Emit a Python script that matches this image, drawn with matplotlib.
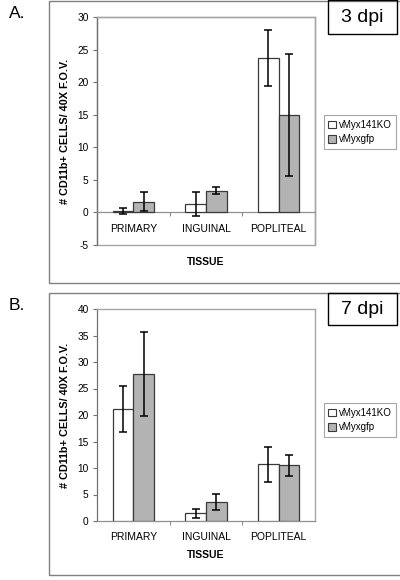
import matplotlib
matplotlib.use("Agg")
import matplotlib.pyplot as plt
from matplotlib.patches import Rectangle, Patch
import numpy as np

plt.rcParams['font.family'] = ['Liberation Sans', 'DejaVu Sans']

categories = ["PRIMARY", "INGUINAL", "POPLITEAL"]
series_names = ["vMyx141KO", "vMyxgfp"]

# Panel A (3 dpi)
a_ko = [0.25, 1.3, 23.7]
a_ko_err = [0.5, 1.8, 4.3]
a_gfp = [1.65, 3.35, 14.95]
a_gfp_err = [1.5, 0.5, 9.4]

# Panel B (7 dpi)
b_ko = [21.1, 1.5, 10.7]
b_ko_err = [4.4, 0.85, 3.3]
b_gfp = [27.75, 3.65, 10.5]
b_gfp_err = [8.0, 1.5, 2.0]

a_yticks = [-5, 0, 5, 10, 15, 20, 25, 30]
b_yticks = [0, 5, 10, 15, 20, 25, 30, 35, 40]

W, H = 400, 580
fig = plt.figure(figsize=(W / 100, H / 100), dpi=100)

def px_axes(x0, y0, x1, y1):
    return fig.add_axes([x0 / W, 1 - y1 / H, (x1 - x0) / W, (y1 - y0) / H])

def fig_rect(x0, y0, x1, y1, lw=1.0, ec="#808080"):
    r = Rectangle((x0 / W, 1 - y1 / H), (x1 - x0) / W, (y1 - y0) / H,
                  transform=fig.transFigure, fill=False, ec=ec, lw=lw, clip_on=False)
    fig.patches.append(r)

WHITE = "white"
GRAY = "#b3b3b3"
EDGE = "#3a3a3a"
FRAME = "#a6a6a6"

def panel(ax, ko, ko_err, gfp, gfp_err, yticks, label_pad, tissue_y):
    x = np.arange(len(categories))
    w = 0.285
    ax.bar(x - w / 2, ko, w, color=WHITE, edgecolor=EDGE, linewidth=0.9, zorder=3)
    ax.bar(x + w / 2, gfp, w, color=GRAY, edgecolor=EDGE, linewidth=0.9, zorder=3)
    ax.errorbar(x - w / 2, ko, yerr=ko_err, fmt="none", ecolor="black",
                elinewidth=1.1, capsize=3, capthick=1.1, zorder=4)
    ax.errorbar(x + w / 2, gfp, yerr=gfp_err, fmt="none", ecolor="black",
                elinewidth=1.1, capsize=3, capthick=1.1, zorder=4)
    ax.set_xlim(-0.5, len(categories) - 0.5)
    ax.set_ylim(yticks[0], yticks[-1])
    ax.set_yticks(yticks)
    ax.set_yticklabels([str(t) for t in yticks], fontsize=7.3)
    for s in ["top", "right"]:
        ax.spines[s].set_color(FRAME)
        ax.spines[s].set_linewidth(1.0)
    ax.spines["left"].set_color("#707070")
    ax.spines["left"].set_linewidth(0.9)
    ax.spines["bottom"].set_position(("data", 0))
    ax.spines["bottom"].set_color("#909090")
    ax.spines["bottom"].set_linewidth(0.9)
    if yticks[0] < 0:
        ax.add_patch(Rectangle((0, 0), 1, 1, transform=ax.transAxes, fill=False,
                               ec=FRAME, lw=1.0, zorder=1, clip_on=False))
    ax.tick_params(axis="y", length=3, width=0.8, color="#707070", pad=3)
    # category boundary ticks
    ax.set_xticks([0.5, 1.5], minor=True)
    ax.tick_params(axis="x", which="minor", length=3, width=0.8, color="#909090")
    ax.set_xticks(x)
    ax.set_xticklabels(categories, fontsize=7.5)
    ax.tick_params(axis="x", which="major", length=0, pad=label_pad)
    ax.set_ylabel("# CD11b+ CELLS/ 40X F.O.V.", fontsize=7.8, fontweight="bold", labelpad=5)
    ax.text(0.5, tissue_y, "TISSUE", transform=ax.transAxes, ha="center", va="center",
            fontsize=7.5, fontweight="bold")

# Panel A
fig_rect(49, 0.5, 402, 283)
axA = px_axes(97, 17, 315, 245)
panel(axA, a_ko, a_ko_err, a_gfp, a_gfp_err, a_yticks, 8, -0.075)
fig.text(9 / W, 1 - 13 / H, "A.", fontsize=12.5, ha="left", va="center")
fig_rect(328, 0.5, 396.5, 34, lw=1.0, ec="black")
fig.text(362 / W, 1 - 17 / H, "3 dpi", fontsize=14, ha="center", va="center")

# Panel B
fig_rect(49, 293, 402, 574.5)
axB = px_axes(97, 309, 315, 521)
panel(axB, b_ko, b_ko_err, b_gfp, b_gfp_err, b_yticks, 8, -0.16)
fig.text(9 / W, 1 - 305 / H, "B.", fontsize=12.5, ha="left", va="center")
fig_rect(328, 293, 396.5, 325, lw=1.0, ec="black")
fig.text(362 / W, 1 - 309 / H, "7 dpi", fontsize=14, ha="center", va="center")

def add_legend(yc):
    handles = [Patch(facecolor=WHITE, edgecolor=EDGE, linewidth=0.8),
               Patch(facecolor=GRAY, edgecolor=EDGE, linewidth=0.8)]
    leg = fig.legend(handles, series_names, loc="center",
                     bbox_to_anchor=(360 / W, 1 - yc / H), fontsize=7,
                     frameon=True, fancybox=False, edgecolor="#909090",
                     handlelength=0.75, handleheight=0.75, handletextpad=0.3,
                     borderpad=0.45, labelspacing=0.5, borderaxespad=0)
    leg.get_frame().set_linewidth(0.8)

add_legend(132)
add_legend(420)

fig.savefig("out.png", dpi=100)
